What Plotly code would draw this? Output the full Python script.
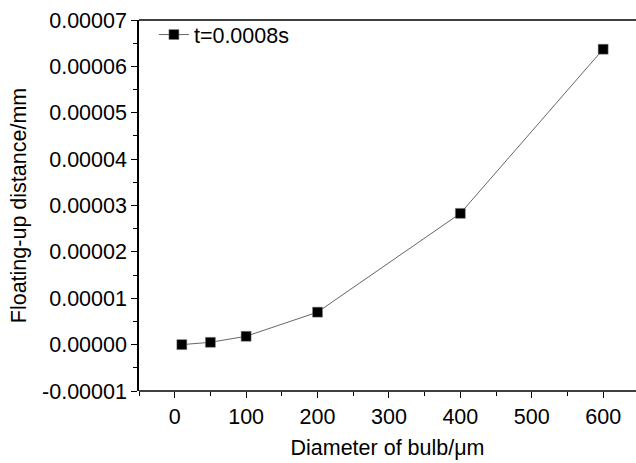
import plotly.graph_objects as go

diameter = [10, 50, 100, 200, 400, 600]
distance = [0.0, 0.0000005, 0.0000018, 0.0000070, 0.0000283, 0.0000637]
series_name = "t=0.0008s"
x_title = "Diameter of bulb/μm"
y_title = "Floating-up distance/mm"
y_tickvals = [-0.00001, 0.0, 0.00001, 0.00002, 0.00003, 0.00004, 0.00005, 0.00006, 0.00007]
y_ticktext = ["-0.00001", "0.00000", "0.00001", "0.00002", "0.00003",
              "0.00004", "0.00005", "0.00006", "0.00007"]

FONT = "Liberation Sans, Arial, sans-serif"
FS = 21.5

fig = go.Figure()
fig.add_trace(go.Scatter(
    x=diameter, y=distance, mode="lines+markers", name=series_name,
    line=dict(color="#666666", width=1),
    marker=dict(symbol="square", size=10, color="black",
                line=dict(color="#888888", width=0.5)),
))

fig.update_layout(
    width=636, height=463,
    margin=dict(l=139, r=0, t=20, b=72),
    paper_bgcolor="white", plot_bgcolor="white",
    font=dict(family=FONT, size=FS, color="black"),
    showlegend=True,
    legend=dict(x=0.03, y=1.016, xanchor="left", yanchor="top",
                bgcolor="rgba(0,0,0,0)", font=dict(size=FS),
                itemwidth=30, tracegroupgap=0),
    xaxis=dict(
        range=[-50, 646], tickmode="linear", tick0=0, dtick=100,
        showgrid=False, zeroline=False,
        showline=False,
        ticks="outside", ticklen=6, tickwidth=1.2, tickcolor="black",
        minor=dict(ticks="outside", ticklen=4, dtick=50, tick0=0, tickcolor="black", showgrid=False),
        title=dict(text=x_title, font=dict(size=FS), standoff=12),
        tickfont=dict(size=FS),
    ),
    yaxis=dict(
        range=[-0.00001, 0.00007], tickmode="array",
        tickvals=y_tickvals, ticktext=y_ticktext,
        showgrid=False, zeroline=False,
        showline=True, linecolor="black", linewidth=1.5, mirror=False,
        ticks="outside", ticklen=6, tickwidth=1.2, tickcolor="black",
        minor=dict(ticks="outside", ticklen=4, dtick=0.000005, tick0=0, tickcolor="black", showgrid=False),
        title=dict(text=y_title, font=dict(size=FS), standoff=10),
        tickfont=dict(size=FS),
    ),
    shapes=[
        dict(type="line", xref="paper", yref="paper", x0=0, x1=1, y0=0, y1=0,
             line=dict(color="black", width=1.5)),
        dict(type="line", xref="paper", yref="paper", x0=0, x1=1, y0=1, y1=1,
             line=dict(color="black", width=1.5)),
    ],
)

fig.write_html("out.html")
